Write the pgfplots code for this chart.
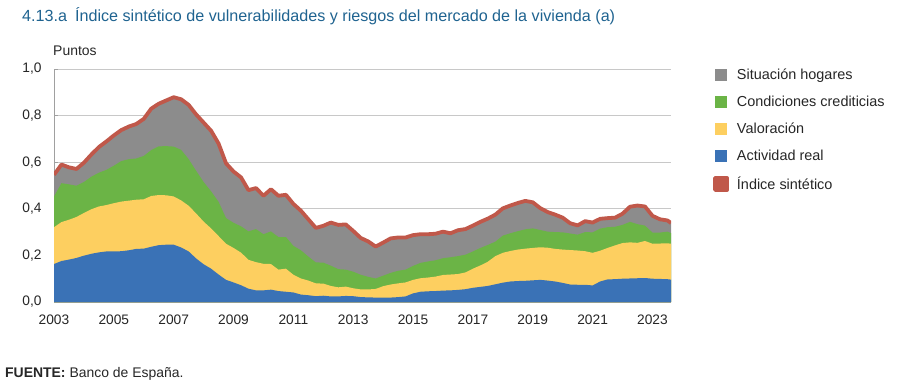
\documentclass[border=0pt]{standalone}
\usepackage{pgfplots}
\usepackage{pgfplotstable}
\pgfplotsset{compat=1.18}
\usepackage{fontspec}
\setmainfont{Liberation Sans}
\definecolor{cgray}{HTML}{8C8C8C}
\definecolor{cgreen}{HTML}{6BB446}
\definecolor{cyellow}{HTML}{FDCF60}
\definecolor{cblue}{HTML}{3A72B6}
\definecolor{cred}{HTML}{C0584A}
\definecolor{ctitle}{HTML}{1F6390}
\definecolor{cgrid}{HTML}{C8C8C8}
\definecolor{caxis}{HTML}{A0A0A0}

% cumulative tops of each layer
\pgfplotstableread{
x       blue   yel    green  tot
2003.00 0.163  0.321  0.453  0.546
2003.25 0.176  0.343  0.510  0.590
2003.50 0.182  0.353  0.505  0.578
2003.75 0.189  0.365  0.499  0.571
2004.00 0.199  0.382  0.515  0.598
2004.25 0.207  0.398  0.538  0.633
2004.50 0.213  0.410  0.555  0.665
2004.75 0.217  0.416  0.567  0.689
2005.00 0.217  0.424  0.585  0.715
2005.25 0.218  0.431  0.605  0.738
2005.50 0.222  0.435  0.613  0.753
2005.75 0.228  0.439  0.616  0.764
2006.00 0.229  0.441  0.627  0.786
2006.25 0.237  0.455  0.652  0.830
2006.50 0.244  0.459  0.668  0.851
2006.75 0.246  0.458  0.669  0.865
2007.00 0.246  0.453  0.667  0.879
2007.25 0.234  0.436  0.653  0.870
2007.50 0.217  0.413  0.613  0.846
2007.75 0.187  0.380  0.563  0.805
2008.00 0.162  0.345  0.515  0.770
2008.25 0.143  0.316  0.475  0.735
2008.50 0.118  0.283  0.430  0.680
2008.75 0.095  0.250  0.360  0.595
2009.00 0.084  0.232  0.340  0.560
2009.25 0.072  0.212  0.325  0.535
2009.50 0.057  0.181  0.303  0.480
2009.75 0.050  0.171  0.313  0.489
2010.00 0.050  0.164  0.291  0.456
2010.25 0.053  0.163  0.303  0.484
2010.50 0.047  0.139  0.279  0.456
2010.75 0.044  0.143  0.279  0.460
2011.00 0.041  0.117  0.241  0.421
2011.25 0.032  0.101  0.222  0.392
2011.50 0.029  0.092  0.195  0.355
2011.75 0.025  0.080  0.170  0.318
2012.00 0.027  0.079  0.169  0.327
2012.25 0.024  0.069  0.156  0.341
2012.50 0.024  0.063  0.141  0.331
2012.75 0.026  0.066  0.139  0.333
2013.00 0.025  0.059  0.130  0.305
2013.25 0.021  0.054  0.117  0.275
2013.50 0.020  0.054  0.108  0.260
2013.75 0.019  0.056  0.101  0.238
2014.00 0.019  0.068  0.113  0.255
2014.25 0.019  0.075  0.125  0.273
2014.50 0.021  0.080  0.134  0.277
2014.75 0.024  0.084  0.139  0.277
2015.00 0.037  0.095  0.155  0.287
2015.25 0.044  0.102  0.168  0.291
2015.50 0.046  0.105  0.174  0.291
2015.75 0.047  0.109  0.179  0.293
2016.00 0.049  0.116  0.188  0.302
2016.25 0.050  0.118  0.192  0.295
2016.50 0.052  0.120  0.197  0.308
2016.75 0.055  0.127  0.203  0.313
2017.00 0.061  0.143  0.217  0.328
2017.25 0.065  0.157  0.232  0.344
2017.50 0.069  0.173  0.245  0.358
2017.75 0.076  0.197  0.259  0.375
2018.00 0.083  0.211  0.285  0.402
2018.25 0.088  0.219  0.295  0.414
2018.50 0.090  0.225  0.304  0.425
2018.75 0.091  0.229  0.312  0.434
2019.00 0.093  0.232  0.316  0.428
2019.25 0.095  0.235  0.309  0.403
2019.50 0.092  0.233  0.302  0.386
2019.75 0.088  0.228  0.300  0.375
2020.00 0.082  0.225  0.299  0.362
2020.25 0.075  0.223  0.294  0.338
2020.50 0.074  0.221  0.289  0.329
2020.75 0.074  0.218  0.300  0.347
2021.00 0.071  0.211  0.299  0.341
2021.25 0.088  0.220  0.315  0.357
2021.50 0.097  0.232  0.321  0.360
2021.75 0.098  0.243  0.323  0.362
2022.00 0.100  0.253  0.331  0.379
2022.25 0.101  0.256  0.344  0.409
2022.50 0.102  0.254  0.334  0.414
2022.75 0.103  0.262  0.328  0.410
2023.00 0.100  0.250  0.298  0.370
2023.25 0.099  0.251  0.298  0.355
2023.50 0.098  0.252  0.302  0.350
2023.62 0.096  0.250  0.296  0.339
}\data

\begin{document}
\begin{tikzpicture}[x=1bp,y=1bp]
\useasboundingbox (0,0) rectangle (897,-385);
\node[anchor=base west, font=\fontsize{16.2}{18}\selectfont, text=ctitle, inner sep=0] at (22,-21) {4.13.a\hspace{0.5em}Índice sintético de vulnerabilidades y riesgos del mercado de la vivienda (a)};
\node[anchor=base west, font=\fontsize{14}{16}\selectfont, text=black!85, inner sep=0] at (53,-55) {Puntos};
\node[anchor=base west, font=\fontsize{14}{16}\selectfont, text=black!85, inner sep=0] at (5,-377) {\textbf{FUENTE:} Banco de España.};
\begin{axis}[
  at={(54bp,-302bp)}, anchor=south west,
  scale only axis, width=617bp, height=233bp,
  xmin=2003, xmax=2023.62, ymin=0, ymax=1,
  axis x line*=bottom, axis y line*=left,
  axis line style={caxis, line width=0.8bp},
  xtick={2003,2005,...,2023},
  ytick={0,0.2,0.4,0.6,0.8,1.0},
  ymajorgrids, grid style={cgrid, line width=0.8bp},
  major tick length=4bp,
  tick align=inside,
  xtick style={caxis, line width=0.8bp},
  ytick style={caxis, line width=0.8bp},
  x tick label style={/pgf/number format/1000 sep={}, font=\fontsize{13.8}{15}\selectfont, text=black!85, yshift=-9bp},
  y tick label style={/pgf/number format/.cd, fixed, fixed zerofill, precision=1, use comma, /tikz/.cd, font=\fontsize{13.8}{15}\selectfont, text=black!85, xshift=-9bp},
  /pgf/number format/assume math mode=true,
  legend style={at={(1.068,1.01)}, anchor=north west, draw=none, fill=none,
    font=\fontsize{14.5}{16}\selectfont, text=black!85, row sep=11bp, inner sep=0pt,
    /tikz/every odd column/.append style={column sep=6bp}},
  legend cell align=left,
]
\addplot[fill=cgray, draw=none, legend image code/.code={\fill[cgray] (0,-6bp) rectangle (12bp,6bp);}] table[x=x,y=tot]{\data} \closedcycle;
\addlegendentry{Situación hogares}
\addplot[fill=cgreen, draw=none, legend image code/.code={\fill[cgreen] (0,-6bp) rectangle (12bp,6bp);}] table[x=x,y=green]{\data} \closedcycle;
\addlegendentry{Condiciones crediticias}
\addplot[fill=cyellow, draw=none, legend image code/.code={\fill[cyellow] (0,-6bp) rectangle (12bp,6bp);}] table[x=x,y=yel]{\data} \closedcycle;
\addlegendentry{Valoración}
\addplot[fill=cblue, draw=none, legend image code/.code={\fill[cblue] (0,-6bp) rectangle (12bp,6bp);}] table[x=x,y=blue]{\data} \closedcycle;
\addlegendentry{Actividad real}
\addplot[draw=cred, line width=3.8bp, line join=round, legend image code/.code={\fill[cred] (0,-6bp) rectangle (12bp,6bp);}] table[x=x,y=tot]{\data};
\addlegendentry{Índice sintético}
\end{axis}
\end{tikzpicture}
\end{document}
